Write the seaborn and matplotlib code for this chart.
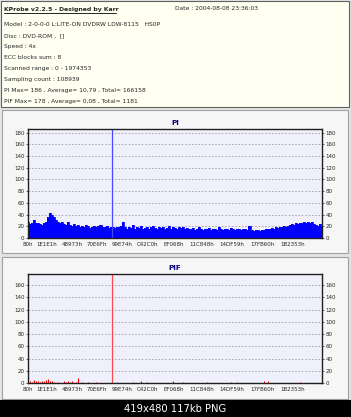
import numpy as np
import matplotlib.pyplot as plt
import seaborn as sns
from matplotlib.patches import Rectangle
from matplotlib.lines import Line2D

# header info
title = 'KProbe v2.2.5 - Designed by Karr'
date_text = 'Date : 2004-08-08 23:36:03'
info_lines = ['Model : 2-0-0-0 L:LITE-ON DVDRW LDW-8115   HS0P',
              'Disc : DVD-ROM ,  []',
              'Speed : 4x',
              'ECC blocks sum : 8',
              'Scanned range : 0 - 1974353',
              'Sampling count : 108939',
              'PI Max= 186 , Average= 10,79 , Total= 166158',
              'PIF Max= 178 , Average= 0,08 , Total= 1181']

scan_end = 1974353
x_labels = ['80h', '1E1E1h', '48973h', '70E6Fh', '99E74h', 'C42C0h',
            'EF068h', '11C848h', '14DF59h', '17FB60h', '1B2353h']

# PI values, evenly spaced over the scanned range
pi_values = [28, 24, 26, 30, 25, 26, 24,
             22, 25, 27,
             36, 42, 40, 35,
             30, 28, 26, 27,
             24, 22, 27, 23, 21, 24, 20, 22,
             19, 21, 18, 22, 20, 17, 19, 21, 18, 20, 23, 19, 18, 21, 17, 19,
             18,
             17, 19, 18, 20, 28,
             18, 16, 19, 17, 22, 16, 18, 17, 20, 16, 17, 19, 16, 18, 21, 17,
             16, 18, 17, 19, 16, 17, 20, 16, 18, 17, 16, 19, 17, 18, 16, 17,
             16, 15, 17, 14, 15, 18, 15, 14, 16, 15, 17, 14, 15, 16, 14, 18,
             15, 14, 16, 15, 14, 17, 15, 14, 16, 15, 14, 15, 16, 14,
             21,
             13, 12, 14, 13, 12, 14, 13,
             15, 16, 15, 17, 16, 18, 17, 19, 18, 20, 19, 21,
             22, 24, 23, 25, 24, 26, 25, 27, 26, 28, 25, 27, 24,
             23, 21, 24, 18]

# PIF values, same sampling
pif_values = [3, 4, 2, 5, 3, 4, 2, 3, 4, 5, 6, 3, 4, 2,
              0, 1, 0, 0, 3, 2, 4, 2, 3, 0, 2, 8, 0, 1, 0, 0, 2, 0,
              0, 0, 1, 0, 0, 0, 0, 0, 0, 0, 0, 0, 2, 0, 0, 0, 0, 0,
              0, 0, 2, 0, 0, 0, 3, 0, 0, 1, 0, 0, 0, 0, 0, 0, 0, 0,
              0, 0, 0, 0, 3, 0, 0, 0, 0, 1, 0, 0, 0, 0, 0, 0, 0, 0,
              0, 0, 0, 1, 0, 0, 0, 0, 0, 0, 0, 0, 0, 0, 0, 2, 0, 0,
              2, 0, 0, 0, 0, 0, 0, 0, 0, 0, 0, 0, 0, 3, 0, 3, 0, 0,
              0, 0, 0, 0, 0, 0, 0, 0, 0, 0, 0, 0, 0, 2, 0, 0, 0, 0,
              0, 0, 0, 0, 0, 0, 0, 0, 3, 0, 0, 4, 0]
pif_values = pif_values[:len(pi_values)]

peak_lba = 562000
pi_max = 186
pif_max = 178

sns.set_style('white')
plt.rcParams['font.family'] = ['DejaVu Sans']

W, H = 351, 417
fig = plt.figure(figsize=(W / 100, H / 100), dpi=100)
fig.patch.set_facecolor('#e4e4e4')


def px(x, y):
    return x / W, 1 - y / H


def box(x0, y0, x1, y1, fc, ec):
    fig.patches.append(Rectangle(px(x0, y1), (x1 - x0) / W, (y1 - y0) / H,
                                 transform=fig.transFigure, facecolor=fc,
                                 edgecolor=ec, lw=0.8, zorder=-5))


box(1, 1, 349, 107, '#fffff2', '#606060')
box(2, 110, 348, 253, '#f6f6f6', '#a0a0a0')
box(2, 257, 348, 399, '#f6f6f6', '#a0a0a0')
box(0, 400, 351, 417, '#000000', '#000000')

fig.text(*px(4, 9), title, fontsize=4.4, fontweight='bold', va='center')
fig.add_artist(Line2D([4 / W, 116 / W], [1 - 12.5 / H, 1 - 12.5 / H], color='black', lw=0.6))
fig.text(*px(175, 9), date_text, fontsize=4.3, va='center')
for i, line in enumerate(info_lines):
    fig.text(*px(4, 24.7 + 10.9 * i), line, fontsize=4.3, va='center')

fig.text(*px(175, 409), '419x480 117kb PNG', fontsize=7.2, color='white',
         ha='center', va='center')

lba = np.linspace(0, scan_end, len(pi_values))
x_ticks = [int(s[:-1], 16) for s in x_labels]


def style(ax, top, ticks, name):
    ax.set_facecolor('#f0f0fd')
    ax.set_xlim(0, scan_end)
    ax.set_ylim(0, top)
    ax.set_yticks(ticks)
    ax.set_xticks(x_ticks)
    ax.set_xticklabels(x_labels)
    ax.yaxis.grid(True, linestyle=(0, (2, 2)), color='#a0a0a0', lw=0.6)
    ax.set_axisbelow(True)
    ax.tick_params(axis='y', labelsize=4, length=1.5, pad=1, right=True,
                   labelright=True, left=True, width=0.5)
    ax.tick_params(axis='x', labelsize=4, length=0, pad=3)
    for s in ax.spines.values():
        s.set_color('#202020')
        s.set_linewidth(1)
    ax.set_title(name, fontsize=5.2, fontweight='bold', color='#000080', pad=3)
    ax.set_xlabel('')
    ax.set_ylabel('')


ax1 = fig.add_axes([28 / W, 1 - 238 / H, 294 / W, 109 / H])
ax1.fill_between(lba, pi_values, step='mid', color='#0000ff', lw=0)
sns.lineplot(x=lba, y=pi_values, ax=ax1, color='#0000ff', lw=0.6,
             drawstyle='steps-mid')
ax1.vlines(peak_lba, 0, pi_max, color='#4848ff', lw=0.9)
style(ax1, pi_max, range(0, 181, 20), 'PI')

ax2 = fig.add_axes([28 / W, 1 - 383 / H, 294 / W, 109 / H])
ax2.vlines(lba, 0, pif_values, color='#ff0000', lw=0.8)
ax2.vlines(peak_lba, 0, pif_max, color='#ff4848', lw=0.9)
style(ax2, pif_max, range(0, 161, 20), 'PIF')

fig.savefig('out.png', dpi=100, facecolor=fig.get_facecolor())
